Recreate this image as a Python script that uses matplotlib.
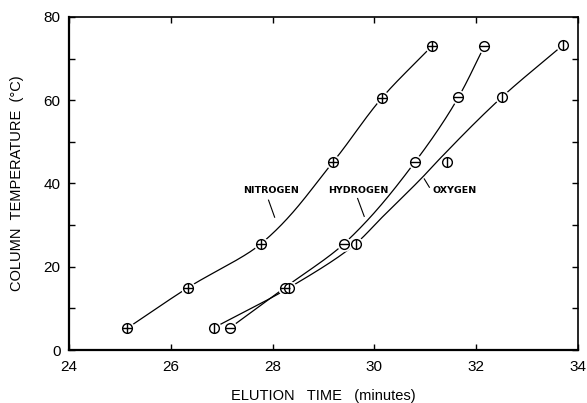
import numpy as np
import matplotlib
matplotlib.use("Agg")
import matplotlib.pyplot as plt
from matplotlib.ticker import MultipleLocator

# ---- data ----
nitrogen_t = [25.14, 26.34, 27.77, 29.19, 30.15, 31.13]
nitrogen_T = [5.2, 15.0, 25.5, 45.2, 60.6, 73.0]

hydrogen_t = [27.16, 28.24, 29.4, 30.8, 31.65, 32.16]
hydrogen_T = [5.3, 15.0, 25.5, 45.2, 60.7, 73.0]

oxygen_t = [26.84, 28.33, 29.63, 31.43, 32.5, 33.7]
oxygen_T = [5.3, 15.0, 25.5, 45.2, 60.7, 73.2]

# smoothed (hand-drawn) oxygen curve, which misses the 45-degree point
oxygen_curve_t = [26.84, 28.33, 29.63, 30.12, 30.96, 31.25, 32.5, 33.7]
oxygen_curve_T = [5.3, 15.0, 25.5, 31.5, 41.7, 45.5, 60.7, 73.2]

labels = [("NITROGEN", 27.43, 38.3), ("HYDROGEN", 29.1, 38.3), ("OXYGEN", 31.14, 38.3)]
leaders = [((27.92, 36.0), (28.04, 31.9)),
           ((29.67, 36.4), (29.8, 32.1)),
           ((30.98, 41.1), (31.08, 39.1))]


def pchip(x, y, xn):
    x = np.asarray(x, float); y = np.asarray(y, float)
    h = np.diff(x); d = np.diff(y) / h
    m = np.zeros_like(x)
    for k in range(1, len(x) - 1):
        if d[k - 1] * d[k] > 0:
            w1 = 2 * h[k] + h[k - 1]; w2 = h[k] + 2 * h[k - 1]
            m[k] = (w1 + w2) / (w1 / d[k - 1] + w2 / d[k])
    m[0] = d[0]; m[-1] = d[-1]
    idx = np.clip(np.searchsorted(x, xn) - 1, 0, len(x) - 2)
    t = (xn - x[idx]) / h[idx]
    h00 = 2 * t**3 - 3 * t**2 + 1; h10 = t**3 - 2 * t**2 + t
    h01 = -2 * t**3 + 3 * t**2; h11 = t**3 - t**2
    return h00 * y[idx] + h10 * h[idx] * m[idx] + h01 * y[idx + 1] + h11 * h[idx] * m[idx + 1]


fig = plt.figure(figsize=(5.87, 4.03), dpi=100)
ax = fig.add_axes([69 / 587, 1 - 350 / 403, 509 / 587, 333 / 403])

lw = 0.9
for tx, Ty in [(nitrogen_t, nitrogen_T), (hydrogen_t, hydrogen_T), (oxygen_curve_t, oxygen_curve_T)]:
    Tn = np.linspace(Ty[0], Ty[-1], 300)
    ax.plot(pchip(Ty, tx, Tn), Tn, color="black", lw=lw, zorder=2)

for tx, Ty, sym in [(nitrogen_t, nitrogen_T, "+"), (hydrogen_t, hydrogen_T, "_"), (oxygen_t, oxygen_T, "|")]:
    ax.plot(tx, Ty, ls="none", marker="o", ms=10.5, mfc="white", mec="none", zorder=3)
    ax.plot(tx, Ty, ls="none", marker="o", ms=7, mfc="white", mec="black", mew=1.0, zorder=4)
    ax.plot(tx, Ty, ls="none", marker=sym, ms=7, mec="black", mew=1.0, zorder=5)

for txt, x, y in labels:
    ax.text(x, y, txt, fontsize=6.8, fontweight="bold", family="DejaVu Sans",
            ha="left", va="center")
for (x0, y0), (x1, y1) in leaders:
    ax.plot([x0, x1], [y0, y1], color="black", lw=0.8)

ax.set_xlim(24, 34)
ax.set_ylim(0, 80)
ax.xaxis.set_major_locator(MultipleLocator(2))
ax.yaxis.set_major_locator(MultipleLocator(20))
ax.yaxis.set_minor_locator(MultipleLocator(10))
ax.tick_params(which="both", direction="in", top=True, right=True, length=4, width=1,
               labelsize=11)
ax.tick_params(axis="x", pad=7)
ax.tick_params(axis="y", pad=6)
for lab in ax.get_xticklabels() + ax.get_yticklabels():
    lab.set_family("Liberation Sans")
for s in ["left", "bottom"]:
    ax.spines[s].set_linewidth(1.6)
for s in ["right", "top"]:
    ax.spines[s].set_linewidth(1.2)

ax.set_xlabel("ELUTION   TIME   (minutes)", fontsize=10.5, family="Liberation Sans", labelpad=11)
ax.set_ylabel("COLUMN  TEMPERATURE  (\u00b0C)", fontsize=10.5, family="Liberation Sans", labelpad=14)

fig.savefig("out.png", dpi=100)
